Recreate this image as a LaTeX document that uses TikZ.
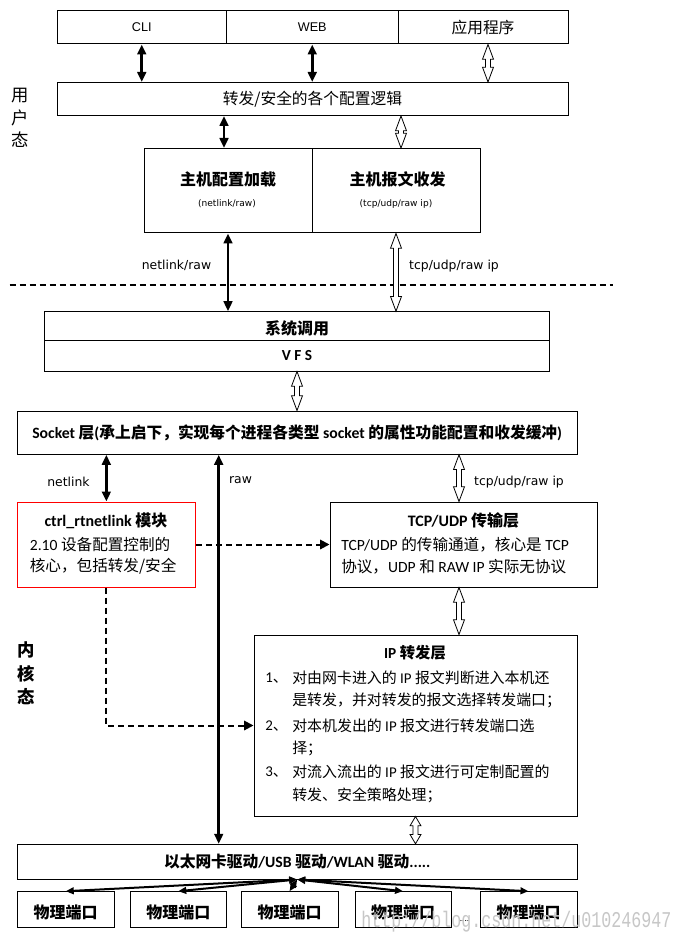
\documentclass[tikz,border=0pt]{standalone}
\usepackage{fontspec}
\usepackage{graphicx}
\setmainfont{Carlito}
\newfontfamily\cjkf{Noto Sans CJK SC}
\newfontfamily\dejavu{DejaVu Sans}
\newfontfamily\libsans{Liberation Sans}
\newfontfamily\libmono{Liberation Mono}
\newcommand\zhs[1]{{\cjkf #1}}
\usetikzlibrary{arrows.meta,calc}
\tikzset{
  bx/.style 2 args={draw=black, line width=0.75pt, inner sep=0pt,
    minimum width=#1*0.75pt, minimum height=#2*0.75pt},
  lowtxt/.style={text height=13pt, text depth=0pt},
  blk/.style={line width=1.9pt, {Triangle[length=7.5pt,width=6.5pt]}-{Triangle[length=7.5pt,width=6.5pt]}},
  parr/.style={line width=1.5pt, {Triangle[length=6pt,width=5pt]}-{Triangle[length=6pt,width=5pt]}},
  dsh/.style={line width=1.5pt, dash pattern=on 4.5pt off 3pt, -{Triangle[length=7pt,width=7pt]}},
  hollow/.style={draw=black, fill=white, line width=0.6pt, to path={
    let \p1=(\tikztostart), \p2=(\tikztotarget) in
    (\x1,\y1) -- (\x1+4.1pt,\y1-#1) -- (\x1+1.9pt,\y1-#1) -- (\x1+1.9pt,\y2+#1)
    -- (\x1+4.1pt,\y2+#1) -- (\x1,\y2) -- (\x1-4.1pt,\y2+#1) -- (\x1-1.9pt,\y2+#1)
    -- (\x1-1.9pt,\y1-#1) -- (\x1-4.1pt,\y1-#1) -- cycle}},
  hollow/.default=11pt,
  lbl/.style={inner sep=0pt, font=\dejavu\fontsize{9.3}{11}\selectfont},
  smalltxt/.style={inner sep=0pt, font=\dejavu\fontsize{6.8}{8}\selectfont},
  ttl/.style={inner sep=0pt, font=\bfseries\fontsize{12}{14}\selectfont},
  body/.style={inner sep=0pt, anchor=west, font=\fontsize{11.7}{14}\selectfont},
  ipbody/.style={inner sep=0pt, anchor=west, font=\fontsize{11.2}{14}\selectfont},
}
\begin{document}
\begin{tikzpicture}[x=0.75pt,y=-0.75pt]
\fill[white] (0,0) rectangle (683,944);
\useasboundingbox (0,0) rectangle (683,944);

% column coordinates
\coordinate (c1) at (488,0);
\coordinate (c2) at (224,0);
\coordinate (c3) at (401,0);
\coordinate (c4) at (218.7,0);
\coordinate (c5) at (459,0);
\coordinate (dl) at (9.6,285);
\coordinate (dr) at (613,285);

% user space
\node[bx={169.5}{33}, font=\libsans\fontsize{9.5}{11}\selectfont] (cli) at (141.75,27.5) {CLI};
\node[bx={171.5}{33}, font=\libsans\fontsize{9.5}{11}\selectfont] (web) at (312.25,27.5) {WEB};
\node[bx={170}{33}, font=\cjkf\fontsize{11.8}{14}\selectfont] (app) at (483,27.5) {应用程序};
\node[bx={511}{33}, font=\cjkf\fontsize{11.8}{14}\selectfont] (logic) at (312.5,99) {转发/安全的各个配置逻辑};
\node[bx={168}{84.5}] (hostcfg) at (228,190.75) {};
\node[bx={168}{84.5}] (hostpkt) at (396,190.75) {};
\node[ttl] (hct) at (228,179.5) {\zhs{主机配置加载}};
\node[smalltxt] (hcs) at (227,204) {(netlink/raw)};
\node[ttl] (hpt) at (397.5,179.5) {\zhs{主机报文收发}};
\node[smalltxt] (hps) at (396,204) {(tcp/udp/raw ip)};

\node[inner sep=0pt, align=center, font=\cjkf\fontsize{13}{17}\selectfont] (us) at (20,118) {用\\户\\态};
\node[inner sep=0pt, align=center, font=\cjkf\bfseries\fontsize{13}{17.5}\selectfont] (ks) at (26,673.5) {内\\核\\态};

\draw[line width=1.3pt, dash pattern=on 4.5pt off 3pt] (dl) -- (dr);

% kernel
\node[bx={505.3}{29}, ttl, lowtxt] (syscall) at (297,326.2) {\zhs{系统调用}};
\node[bx={505.3}{30.3}, font=\bfseries\fontsize{11.5}{14}\selectfont] (vfs) at (297,355.85) {V F S};
\node[bx={559.6}{43.3}, font=\bfseries\fontsize{11.8}{14}\selectfont] (socket) at (297.2,432.65)
  {Socket \zhs{层}(\zhs{承上启下，实现每个进程各类型} socket \zhs{的属性功能配置和收发缓冲})};
\node[bx={177.9}{85}, draw=red] (ctrl) at (106.35,544.5) {};
\node[bx={267}{85}] (tcp) at (463.5,544.5) {};
\node[bx={323}{181}] (ip) at (415.5,725.5) {};
\node[bx={559.6}{34.7}, font=\bfseries\fontsize{11.8}{14}\selectfont] (drv) at (297.2,861.65)
  {\zhs{以太网卡驱动}/USB \zhs{驱动}/WLAN \zhs{驱动}.....};

\node[bx={96.6}{35.3}, ttl, lowtxt] (p1) at (65.7,909.35) {\zhs{物理端口}};
\node[bx={96.5}{35.3}, ttl, lowtxt] (p2) at (178.25,909.35) {\zhs{物理端口}};
\node[bx={97}{35.3}, ttl, lowtxt] (p3) at (289.5,909.35) {\zhs{物理端口}};
\node[bx={96}{35.3}, ttl, lowtxt] (p4) at (403,909.35) {\zhs{物理端口}};
\node[bx={97}{35.3}, ttl, lowtxt] (p5) at (528.5,909.35) {\zhs{物理端口}};
\node[inner sep=0pt, anchor=base, font=\fontsize{7}{8}\selectfont] (dots) at (464.5,921) {....};

% ctrl text
\node[ttl] (ctt) at (106,521) {ctrl\_rtnetlink \zhs{模块}};
\node[body] (ct1) at (29.6,544.3) {2.10 \zhs{设备配置控制的}};
\node[body] (ct2) at (29.6,566.7) {\zhs{核心，包括转发/安全}};
% tcp text
\node[ttl] (tct) at (463.5,520) {TCP/UDP \zhs{传输层}};
\node[body] (tc1) at (341,544.3) {TCP/UDP \zhs{的传输通道，核心是} TCP};
\node[body] (tc2) at (341,566.7) {\zhs{协议，}UDP \zhs{和} RAW IP \zhs{实际无协议}};
% ip text
\node[ttl, font=\bfseries\fontsize{11.5}{14}\selectfont] (ipt) at (415,653) {IP \zhs{转发层}};
\node[ipbody] (in1) at (265,677.7) {1\zhs{、}};
\node[ipbody] (in2) at (265,725.7) {2\zhs{、}};
\node[ipbody] (in3) at (265,771.7) {3\zhs{、}};
\node[ipbody] (il1) at (292,677.7) {\zhs{对由网卡进入的} IP \zhs{报文判断进入本机还}};
\node[ipbody] (il2) at (292,700) {\zhs{是转发，并对转发的报文选择转发端口；}};
\node[ipbody] (il3) at (292,725.7) {\zhs{对本机发出的} IP \zhs{报文进行转发端口选}};
\node[ipbody] (il4) at (292,748) {\zhs{择；}};
\node[ipbody] (il5) at (292,771.7) {\zhs{对流入流出的} IP \zhs{报文进行可定制配置的}};
\node[ipbody] (il6) at (292,795) {\zhs{转发、安全策略处理；}};

% labels
\node[lbl] (lnr) at (176.5,265.7) {netlink/raw};
\node[lbl] (ltu) at (454,266) {tcp/udp/raw ip};
\node[lbl] (lnl) at (68.5,481.7) {netlink};
\node[lbl] (lraw) at (240.5,479.7) {raw};
\node[lbl] (ltu2) at (519,481.7) {tcp/udp/raw ip};

% connectors
\draw[blk] (cli.south) -- (cli.south |- logic.north);
\draw[blk] (web.south) -- (web.south |- logic.north);
\draw[hollow] (app.south -| c1) to (logic.north -| c1);
\draw[blk] (logic.south -| c2) -- (hostcfg.north -| c2);
\draw[hollow] (logic.south -| c3) to (hostpkt.north -| c3);
\draw[blk] (hostcfg.south) -- (hostcfg.south |- syscall.north);
\draw[hollow] (hostpkt.south) to (hostpkt.south |- syscall.north);
\draw[hollow] (vfs.south) to (vfs.south |- socket.north);
\draw[blk] (ctrl.north |- socket.south) -- (ctrl.north);
\draw[dsh] (ctrl.east) -- (tcp.west);
\draw[dsh] (ctrl.south) |- (ip.west);
\draw[blk] (socket.south -| c4) -- (drv.north -| c4);
\draw[hollow] (socket.south -| c5) to (tcp.north -| c5);
\draw[hollow] (tcp.south -| c5) to (ip.north -| c5);
\draw[hollow=7pt] (ip.south) to (ip.south |- drv.north);
\draw[parr] (drv.south) -- (p1.north);
\draw[parr] (drv.south) -- (p2.north);
\draw[parr] (drv.south) -- (p3.north);
\draw[parr] (drv.south) -- (p4.north);
\draw[parr] (drv.south) -- (p5.north);

\node[anchor=base west, inner sep=0pt, text=black!22] (wm) at (361,927)
  {\scalebox{1}[1.35]{\libmono\fontsize{12.5}{14}\selectfont http://blog.csdn.net/u010246947}};
\end{tikzpicture}
\end{document}
